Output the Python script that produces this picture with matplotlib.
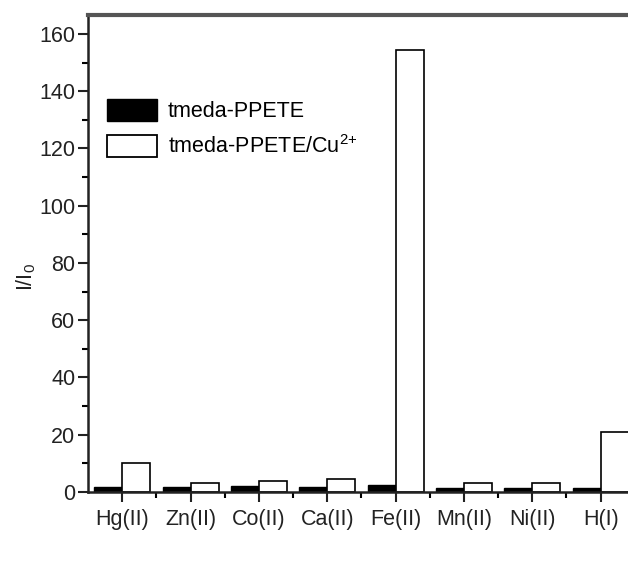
import numpy as np
import matplotlib
matplotlib.use('Agg')
import matplotlib.pyplot as plt
from matplotlib.ticker import MultipleLocator
from matplotlib.patches import Patch

plt.rcParams.update({
    'font.family': ['Liberation Sans', 'DejaVu Sans'],
    'font.size': 15,
    'mathtext.default': 'regular',
})

# data
ions = ['Hg(II)', 'Zn(II)', 'Co(II)', 'Ca(II)', 'Fe(II)', 'Mn(II)', 'Ni(II)', 'H(I)']
polymer = [1.7, 1.8, 2.0, 1.7, 2.6, 1.5, 1.5, 1.5]
polymer_cu = [10.0, 3.2, 3.8, 4.4, 154.4, 3.1, 3.1, 21.1]

x = np.arange(1, len(ions) + 1)
w = 0.41

fig = plt.figure(figsize=(6.28, 5.70), dpi=100)
ax = fig.add_axes([88 / 628, 1 - 492 / 570, 1 - 88 / 628, (492 - 15) / 570])

ax.bar(x - w / 2, polymer, width=w, color='black', edgecolor='black', linewidth=1.0)
ax.bar(x + w / 2, polymer_cu, width=w, color='white', edgecolor='black', linewidth=1.2)

ax.set_xlim(0.5, 8.4)
ax.set_ylim(0, 166.6)
ax.set_xticks(x)
ax.set_xticklabels(ions)
ax.set_xticks(x[:-1] + 0.5, minor=True)
ax.yaxis.set_major_locator(MultipleLocator(20))
ax.yaxis.set_minor_locator(MultipleLocator(10))

ax.tick_params(axis='both', which='major', direction='out', length=7, width=1.5,
               labelsize=15.5, colors='#222222')
ax.tick_params(axis='y', which='major', pad=2)
ax.tick_params(axis='x', which='major', pad=5)
ax.tick_params(axis='both', which='minor', direction='out', length=4, width=1.5)

ax.spines['right'].set_visible(False)
ax.spines['top'].set_color('#555555')
ax.spines['top'].set_linewidth(3)
ax.spines['left'].set_linewidth(1.8)
ax.spines['bottom'].set_linewidth(1.8)
ax.spines['left'].set_color('#222222')
ax.spines['bottom'].set_color('#222222')

ax.set_ylabel(r'I/I$_0$', fontsize=15.5, color='#222222')
ax.yaxis.set_label_coords(-0.093, 0.45)

handles = [Patch(facecolor='black', edgecolor='black', linewidth=1.0),
           Patch(facecolor='white', edgecolor='black', linewidth=1.3)]
ax.legend(handles, ['tmeda-PPETE', r'tmeda-PPETE/Cu$^{2{+}}$'],
          loc='upper left', bbox_to_anchor=(0.0, 0.865), frameon=False,
          handlelength=2.3, handleheight=1.2, handletextpad=0.5,
          labelspacing=0.6, fontsize=15.5)

fig.savefig('out.png', dpi=100)
